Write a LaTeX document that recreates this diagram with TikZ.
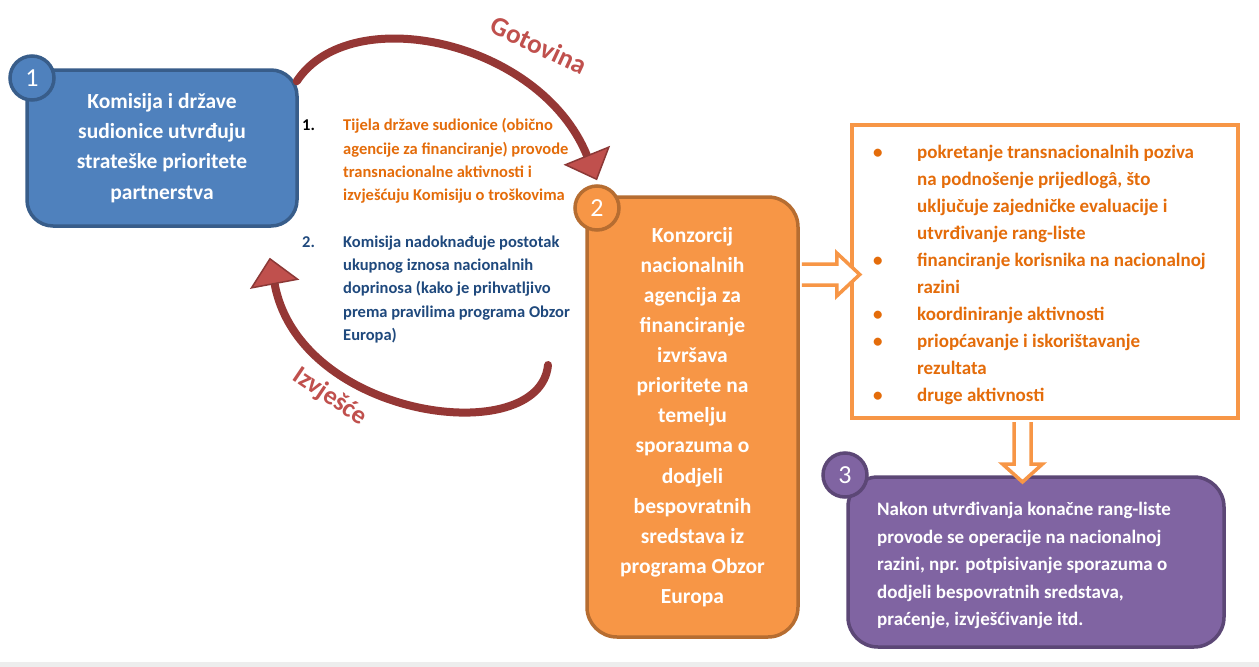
\documentclass[tikz,border=0pt]{standalone}
\usepackage{fontspec}
\setmainfont{Carlito}
\usetikzlibrary{arrows.meta,calc}
\definecolor{bfill}{HTML}{4F81BD}
\definecolor{bline}{HTML}{385D8A}
\definecolor{ofill}{HTML}{F79646}
\definecolor{oline}{HTML}{B66D31}
\definecolor{pfill}{HTML}{8064A2}
\definecolor{pline}{HTML}{5C4776}
\definecolor{shaft}{HTML}{953735}
\definecolor{headfill}{HTML}{C0504D}
\definecolor{headline}{HTML}{8C3836}
\definecolor{otext}{HTML}{E46C0A}
\definecolor{ntext}{HTML}{1F497D}
\definecolor{lbl}{HTML}{C0504D}
\begin{document}
\begin{tikzpicture}[x=1pt,y=-1pt,
  box/.style={rounded corners=26pt,line width=3.5pt,inner sep=0pt},
  numc/.style={circle,minimum size=44pt,inner sep=0pt,line width=3.5pt,text=white,font=\fontsize{26}{26}\selectfont},
  bigtxt/.style={text=white,font=\fontsize{21.5}{30.1}\selectfont\bfseries,align=center},
  curv/.style={line width=8pt,draw=shaft,line cap=round,-{Triangle[width=50pt,length=27pt,fill=headfill,color=headline,line width=1.5pt]}},
  lab/.style={text=lbl,inner sep=0pt,font=\fontsize{27}{27}\selectfont\bfseries},
  blockarr/.style={draw=ofill,fill=white,line width=3.5pt,line join=miter},
  listtxt/.style={anchor=north west,inner sep=0pt,align=left,font=\fontsize{16.5}{23.3}\selectfont\bfseries},
  numtxt/.style={anchor=base west,inner sep=0pt,font=\fontsize{16.5}{23.3}\selectfont\bfseries}
]
\useasboundingbox (0,0) rectangle (1259,667);
\fill[white] (0,0) rectangle (1259,667);
\fill[black!7] (0,662) rectangle (1259,667);

% box 1
\node[box,draw=bline,fill=bfill,minimum width=270pt,minimum height=156pt,bigtxt] (box1) at (162,148)
  {Komisija i države\\sudionice utvrđuju\\strateške prioritete\\partnerstva};
\node[numc,draw=bline,fill=bfill] (c1) at (32,78) {1};

% box 2
\node[box,rounded corners=30pt,draw=oline,fill=ofill,minimum width=211pt,minimum height=440pt,bigtxt] (box2) at (692.5,417)
  {Konzorcij\\nacionalnih\\agencija za\\financiranje\\izvršava\\prioritete na\\temelju\\sporazuma o\\dodjeli\\bespovratnih\\sredstava iz\\programa Obzor\\Europa};
\node[numc,draw=oline,fill=ofill] (c2) at (597,208) {2};

% middle list
\node[numtxt,text=black] (n1) at (302,130) {1.};
\node[listtxt,text=otext] (i1) at (343,118.5)
  {Tijela države sudionice (obično\\agencije za financiranje) provode\\transnacionalne aktivnosti i\\izvješćuju Komisiju o troškovima};
\node[numtxt,text=ntext] (n2) at (302,247) {2.};
\node[listtxt,text=ntext] (i2) at (343,235.5)
  {Komisija nadoknađuje postotak\\ukupnog iznosa nacionalnih\\doprinosa (kako je prihvatljivo\\prema pravilima programa Obzor\\Europa)};

% curved arrows
\coordinate (g1) at ($(box1.north east)+(-2,13)$);
\coordinate (g2) at ($(c2.north)+(0,-4)$);
\draw[curv] (g1) .. controls (350,0) and (540,40) .. (g2);
\node[lab,rotate=-25] (lg) at (539,45) {Gotovina};

\coordinate (r1) at (548,365);
\coordinate (r2) at ($(box1.south east)+(-29,30)$);
\draw[curv] (r1) .. controls (540,450) and (300,420) .. (r2);
\node[lab,rotate=-34,font=\fontsize{26}{26}\selectfont\bfseries] (li) at (330,397) {Izvješće};

% right list box
\node[draw=ofill,line width=4pt,fill=white,minimum width=386pt,minimum height=293pt,inner sep=0pt] (list) at (1045,271.5) {};
\node[anchor=north west,inner sep=0pt,align=left,text=otext,font=\fontsize{19}{27.1}\selectfont\bfseries] (items) at (873,144.5)
  {\makebox[44pt][l]{\textbullet}pokretanje transnacionalnih poziva\\
   \hspace*{44pt}na podnošenje prijedlogâ, što\\
   \hspace*{44pt}uključuje zajedničke evaluacije i\\
   \hspace*{44pt}utvrđivanje rang-liste\\
   \makebox[44pt][l]{\textbullet}financiranje korisnika na nacionalnoj\\
   \hspace*{44pt}razini\\
   \makebox[44pt][l]{\textbullet}koordiniranje aktivnosti\\
   \makebox[44pt][l]{\textbullet}priopćavanje i iskorištavanje\\
   \hspace*{44pt}rezultata\\
   \makebox[44pt][l]{\textbullet}druge aktivnosti};

% right block arrow
\coordinate (ra) at ($(box2.east |- list.west)+(0,3)$);
\filldraw[blockarr] ($(ra)+(2,-10.5)$) -- ($(ra)+(37,-10.5)$) -- ($(ra)+(37,-21.5)$) -- ($(ra)+(60,0)$)
  -- ($(ra)+(37,21.5)$) -- ($(ra)+(37,10.5)$) -- ($(ra)+(2,10.5)$);

% box 3
\node[box,rounded corners=30pt,draw=pline,fill=pfill,minimum width=376pt,minimum height=170pt] (box3) at (1036,562) {};
\node[anchor=north west,inner sep=0pt,align=left,text=white,font=\fontsize{19}{27.5}\selectfont\bfseries] (t3) at (877,502)
  {Nakon utvrđivanja konačne rang-liste\\provode se operacije na nacionalnoj\\razini, npr. potpisivanje sporazuma o\\dodjeli bespovratnih sredstava,\\praćenje, izvješćivanje itd.};
\node[numc,draw=pline,fill=pfill] (c3) at (845,475) {3};

% down block arrow
\coordinate (da) at ($(list.south)+(-22.5,0)$);
\filldraw[blockarr] ($(da)+(-8.5,2)$) -- ($(da)+(-8.5,44)$) -- ($(da)+(-20,44)$) -- ($(da)+(0,62)$)
  -- ($(da)+(20,44)$) -- ($(da)+(8.5,44)$) -- ($(da)+(8.5,2)$);
\end{tikzpicture}
\end{document}
